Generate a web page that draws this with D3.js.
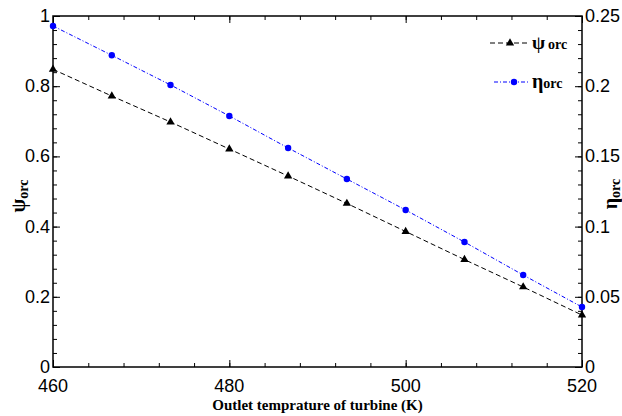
<!DOCTYPE html>
<html lang="en">
<head>
<meta charset="UTF-8">
<title>ORC</title>
<script src="https://cdn.jsdelivr.net/npm/d3@7"></script>
<style>
  body { margin: 0; background: #fff; }
  svg { display: block; }
</style>
</head>
<body>
<script>
// data
var temps = [460, 466.67, 473.33, 480, 486.67, 493.33, 500, 506.67, 513.33, 520];
var psiOrc = [0.848, 0.772, 0.698, 0.621, 0.544, 0.466, 0.386, 0.306, 0.228, 0.148];
var etaOrc = [0.2429, 0.222, 0.2009, 0.1788, 0.156, 0.1339, 0.1118, 0.089, 0.0655, 0.0427];
var xTicks = [460, 480, 500, 520];
var leftTicks = [0, 0.2, 0.4, 0.6, 0.8, 1];
var rightTicks = [0, 0.05, 0.1, 0.15, 0.2, 0.25];

var width = 622, height = 416;
var m = {left: 53, right: 40, top: 16, bottom: 49};
var x0 = m.left, x1 = width - m.right, y0 = m.top, y1 = height - m.bottom;

var svg = d3.select("body").append("svg")
    .attr("width", width).attr("height", height);

var x = d3.scaleLinear().domain([460, 520]).range([x0, x1]);
var yL = d3.scaleLinear().domain([0, 1]).range([y1, y0]);
var yR = d3.scaleLinear().domain([0, 0.25]).range([y1, y0]);

var tickFont = "Liberation Sans, Arial, sans-serif";

// minor ticks
function minor(axis, ticks, len) {
    return axis.tickValues(ticks).tickSizeInner(len).tickSizeOuter(0).tickFormat("");
}
var xMinor = d3.range(460, 520.01, 4);
var lMinor = d3.range(0, 1.001, 0.04);
var rMinor = d3.range(0, 0.2501, 0.01);

svg.append("g").attr("transform", "translate(0," + y1 + ")").call(minor(d3.axisTop(x), xMinor, 4));
svg.append("g").attr("transform", "translate(0," + y1 + ")").call(d3.axisTop(x).tickValues(xTicks).tickSizeInner(7).tickSizeOuter(0).tickFormat(""));
svg.append("g").attr("transform", "translate(0," + y0 + ")").call(minor(d3.axisBottom(x), xMinor, 4));
svg.append("g").attr("transform", "translate(0," + y0 + ")").call(d3.axisBottom(x).tickValues(xTicks).tickSizeInner(7).tickSizeOuter(0).tickFormat(""));
svg.append("g").attr("transform", "translate(" + x0 + ",0)").call(minor(d3.axisRight(yL), lMinor, 4));
svg.append("g").attr("transform", "translate(" + x0 + ",0)").call(d3.axisRight(yL).tickValues(leftTicks).tickSizeInner(7).tickSizeOuter(0).tickFormat(""));
svg.append("g").attr("transform", "translate(" + x1 + ",0)").call(minor(d3.axisLeft(yR), rMinor, 4));
svg.append("g").attr("transform", "translate(" + x1 + ",0)").call(d3.axisLeft(yR).tickValues(rightTicks).tickSizeInner(7).tickSizeOuter(0).tickFormat(""));

svg.selectAll(".domain").remove();
svg.selectAll(".tick line").attr("stroke", "#000").attr("stroke-width", 1);

// frame
svg.append("rect").attr("x", x0).attr("y", y0).attr("width", x1 - x0).attr("height", y1 - y0)
    .attr("fill", "none").attr("stroke", "#000").attr("stroke-width", 1.5);

// tick labels
svg.selectAll(".xl").data(xTicks).enter().append("text")
    .attr("x", d => x(d)).attr("y", y1 + 25)
    .attr("text-anchor", "middle").attr("font-family", tickFont).attr("font-size", 18)
    .text(d => d);
svg.selectAll(".ll").data(leftTicks).enter().append("text")
    .attr("x", x0 - 3).attr("y", d => yL(d) + 6)
    .attr("text-anchor", "end").attr("font-family", tickFont).attr("font-size", 18)
    .text(d => d3.format("")(d));
svg.selectAll(".rl").data(rightTicks).enter().append("text")
    .attr("x", x1 + 3).attr("y", d => yR(d) + 6)
    .attr("text-anchor", "start").attr("font-family", tickFont).attr("font-size", 18)
    .text(d => d3.format("")(d));

// axis titles
var serif = "Liberation Serif, Times New Roman, serif";
svg.append("text").attr("x", (x0 + x1) / 2).attr("y", 410)
    .attr("text-anchor", "middle").attr("font-family", serif).attr("font-weight", "bold").attr("font-size", 15)
    .text("Outlet temprature of turbine (K)");

var tl = svg.append("text").attr("transform", "translate(25,196) rotate(-90)")
    .attr("text-anchor", "middle").attr("font-family", serif).attr("font-weight", "bold");
tl.append("tspan").attr("font-size", 20).text("ψ");
tl.append("tspan").attr("font-size", 14).attr("dy", 3).text("orc");

var tr = svg.append("text").attr("transform", "translate(617,194) rotate(-90)")
    .attr("text-anchor", "middle").attr("font-family", serif).attr("font-weight", "bold");
tr.append("tspan").attr("font-size", 20).text("η");
tr.append("tspan").attr("font-size", 14).attr("dy", 3).text("orc");

// series
var psiLine = d3.line().x((d, i) => x(temps[i])).y(d => yL(d));
var etaLine = d3.line().x((d, i) => x(temps[i])).y(d => yR(d));

svg.append("path").datum(psiOrc).attr("d", psiLine)
    .attr("fill", "none").attr("stroke", "#000").attr("stroke-width", 1).attr("stroke-dasharray", "5,3");
svg.append("path").datum(etaOrc).attr("d", etaLine)
    .attr("fill", "none").attr("stroke", "#0000ff").attr("stroke-width", 1).attr("stroke-dasharray", "4,2,1,2");

var tri = d3.symbol().type(d3.symbolTriangle).size(30);
svg.selectAll(".psi").data(psiOrc).enter().append("path")
    .attr("d", tri).attr("fill", "#000")
    .attr("transform", (d, i) => "translate(" + x(temps[i]) + "," + yL(d) + ")");
svg.selectAll(".eta").data(etaOrc).enter().append("circle")
    .attr("cx", (d, i) => x(temps[i])).attr("cy", d => yR(d)).attr("r", 3.2).attr("fill", "#0000ff");

// legend
var lg = svg.append("g");
lg.append("line").attr("x1", 490).attr("x2", 528).attr("y1", 43).attr("y2", 43)
    .attr("stroke", "#000").attr("stroke-dasharray", "5,3");
lg.append("path").attr("d", tri).attr("fill", "#000").attr("transform", "translate(510,43)");
var t1 = lg.append("text").attr("x", 532).attr("y", 49).attr("font-family", serif).attr("font-weight", "bold");
t1.append("tspan").attr("font-size", 19).text("ψ");
t1.append("tspan").attr("font-size", 14).attr("dx", 3).text("orc");

lg.append("line").attr("x1", 494).attr("x2", 528).attr("y1", 82).attr("y2", 82)
    .attr("stroke", "#0000ff").attr("stroke-dasharray", "4,2,1,2");
lg.append("circle").attr("cx", 514).attr("cy", 82).attr("r", 3.2).attr("fill", "#0000ff");
var t2 = lg.append("text").attr("x", 532).attr("y", 88).attr("font-family", serif).attr("font-weight", "bold");
t2.append("tspan").attr("font-size", 20).text("η");
t2.append("tspan").attr("font-size", 14).text("orc");
</script>
</body>
</html>
